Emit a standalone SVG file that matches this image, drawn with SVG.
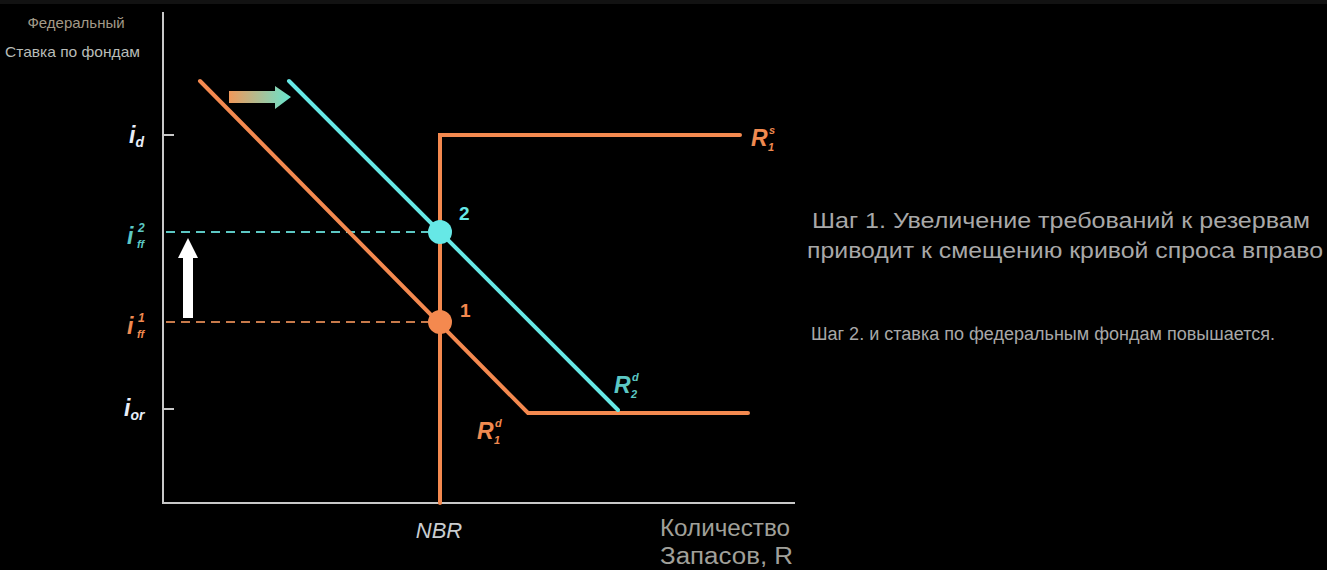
<svg xmlns="http://www.w3.org/2000/svg" width="1327" height="570" viewBox="0 0 1327 570">
<style>
.ax{stroke:#c8c8c8;stroke-width:2;fill:none}
.or{stroke:#f4894f;stroke-width:4;fill:none;stroke-linecap:round;stroke-linejoin:miter}
.cy{stroke:#66e8e6;stroke-width:4;fill:none;stroke-linecap:round}
.lbl{font-family:"Liberation Sans",Arial,sans-serif;font-style:italic;font-weight:bold}
.txt{font-family:"Liberation Sans",Arial,sans-serif}
</style>
<defs>
<linearGradient id="g1" x1="0" y1="0" x2="1" y2="0">
<stop offset="0" stop-color="#f0985a"/>
<stop offset="1" stop-color="#66e6d0"/>
</linearGradient>
</defs>
<rect x="0" y="0" width="1327" height="570" fill="#000"/>
<rect x="0" y="0" width="1327" height="4" fill="#121212"/>

<g id="axes">
<line class="ax" x1="163" y1="12" x2="163" y2="504"/>
<line class="ax" x1="162" y1="503" x2="795" y2="503"/>
<line class="ax" x1="163" y1="135" x2="174" y2="135"/>
<line class="ax" x1="163" y1="409" x2="174" y2="409"/>
</g>

<g id="connectors">
<line x1="166" y1="232" x2="428" y2="232" stroke="#5cc8c4" stroke-width="2" stroke-dasharray="9,6"/>
<line x1="166" y1="322" x2="428" y2="322" stroke="#c87a4a" stroke-width="2" stroke-dasharray="9,6"/>
<polygon points="183,318 193,318 193,258 198,258 188,238 178,258 183,258" fill="#ffffff"/>
<polygon points="229,91 275,91 275,86 291,97 275,109 275,103 229,103" fill="url(#g1)"/>
</g>

<g id="supply">
<polyline class="or" points="440,503 440,135 740,135"/>
</g>
<g id="demand1">
<polyline class="or" points="200,81 528,413 748,413"/>
</g>
<g id="demand2">
<line class="cy" x1="289" y1="81" x2="618" y2="410"/>
</g>

<g id="point2">
<circle cx="440" cy="232" r="12" fill="#66e8e6"/>
<text class="txt" x="459" y="220" font-size="19" font-weight="bold" fill="#66e8e6">2</text>
</g>
<g id="point1">
<circle cx="440" cy="322" r="12" fill="#f4894f"/>
<text class="txt" x="460" y="317" font-size="19" font-weight="bold" fill="#f4894f">1</text>
</g>

<g id="ylabels">
<text class="lbl" x="129" y="143" font-size="23" fill="#e8eef8">i<tspan font-size="14" dy="4">d</tspan></text>
<text class="lbl" x="127" y="244" font-size="23" fill="#5cc8c4">i</text>
<text class="lbl" x="138" y="232" font-size="12" fill="#5cc8c4">2</text>
<text class="lbl" x="137" y="248" font-size="11" fill="#5cc8c4">ff</text>
<text class="lbl" x="127" y="334" font-size="23" fill="#f08a50">i</text>
<text class="lbl" x="138" y="322" font-size="12" fill="#f08a50">1</text>
<text class="lbl" x="137" y="338" font-size="11" fill="#f08a50">ff</text>
<text class="lbl" x="124" y="416" font-size="23" fill="#e8eef8">i<tspan font-size="14" dy="4">or</tspan></text>
</g>

<g id="curvelabels">
<text class="lbl" x="751" y="146" font-size="23" fill="#f08a50">R</text>
<text class="lbl" x="769" y="134" font-size="11" fill="#f08a50">s</text>
<text class="lbl" x="768" y="151" font-size="11" fill="#f08a50">1</text>
<text class="lbl" x="614" y="393" font-size="23" fill="#5cc8c4">R</text>
<text class="lbl" x="632" y="381" font-size="11" fill="#5cc8c4">d</text>
<text class="lbl" x="631" y="398" font-size="11" fill="#5cc8c4">2</text>
<text class="lbl" x="477" y="439" font-size="23" fill="#f08a50">R</text>
<text class="lbl" x="495" y="427" font-size="11" fill="#f08a50">d</text>
<text class="lbl" x="494" y="444" font-size="11" fill="#f08a50">1</text>
</g>

<g id="xlabels">
<text class="txt" x="439" y="538" font-size="22" font-style="italic" fill="#c8ccd0" text-anchor="middle">NBR</text>
<text class="txt" x="660" y="536" font-size="23" fill="#a0a09a" textLength="130" lengthAdjust="spacingAndGlyphs">Количество</text>
<text class="txt" x="660" y="564" font-size="23" fill="#a0a09a" textLength="133" lengthAdjust="spacingAndGlyphs">Запасов, R</text>
</g>

<g id="title">
<text class="txt" x="76" y="28" font-size="15" fill="#a39a88" text-anchor="middle">Федеральный</text>
<text class="txt" x="5" y="57" font-size="15" fill="#b8bcb8" textLength="135" lengthAdjust="spacingAndGlyphs">Ставка по фондам</text>
</g>

<g id="notes">
<text class="txt" x="812" y="228" font-size="22" fill="#a8a8a8" textLength="498" lengthAdjust="spacingAndGlyphs">Шаг 1. Увеличение требований к резервам</text>
<text class="txt" x="807" y="258" font-size="22" fill="#a8a8a8" textLength="516" lengthAdjust="spacingAndGlyphs">приводит к смещению кривой спроса вправо</text>
<text class="txt" x="811" y="340" font-size="18" fill="#a8a8a8" textLength="464" lengthAdjust="spacingAndGlyphs">Шаг 2. и ставка по федеральным фондам повышается.</text>
</g>
</svg>
